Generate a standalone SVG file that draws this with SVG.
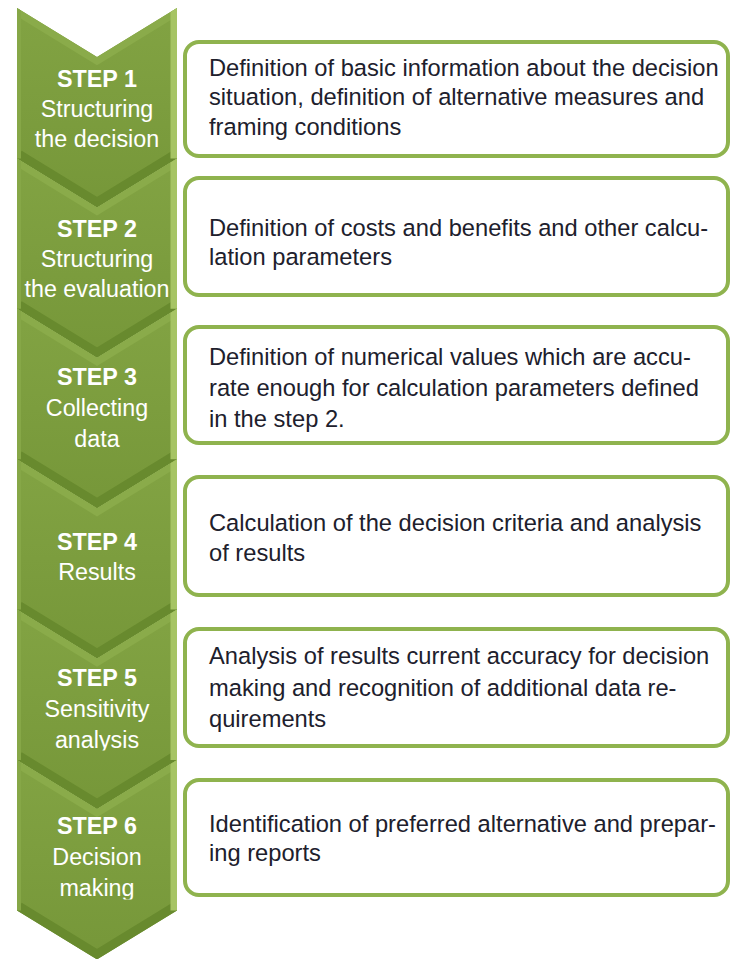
<svg xmlns="http://www.w3.org/2000/svg" width="732" height="959" viewBox="0 0 732 959">
  <style>
    .chev { fill: url(#chevFill); }
    .bevTop { fill: none; stroke: #8aab4a; stroke-width: 14; stroke-linejoin: miter; }
    .bevBot { fill: none; stroke: #688a2e; stroke-width: 18; stroke-linejoin: miter; }
    .bevRight { fill: none; stroke: #a6c464; stroke-width: 13; }
    .bevLeft { fill: none; stroke: #86a747; stroke-width: 8; }
    .step { font-family: "Liberation Sans", Arial, sans-serif; font-size: 23.3px; fill: #ffffff; text-anchor: middle; }
    .step .hd { font-weight: bold; }
    .box rect { fill: #ffffff; stroke: #8fb34e; stroke-width: 4; }
    .box text { font-family: "Liberation Sans", Arial, sans-serif; font-size: 23.7px; fill: #20202c; }
  </style>
  <defs>
    <linearGradient id="chevFill" x1="0" y1="0" x2="0" y2="1">
      <stop offset="0" stop-color="#82a343"/>
      <stop offset="1" stop-color="#769739"/>
    </linearGradient>
    <!-- one chevron, drawn at y=0; each step translates it down -->
    <path id="chevShape" d="M17,0 L97,49 L177,0 L177,150.4 L97,199.4 L17,150.4 Z"/>
    <clipPath id="chevClip"><use href="#chevShape"/></clipPath>
    <g id="chevron">
      <use href="#chevShape" class="chev"/>
      <g clip-path="url(#chevClip)">
        <path class="bevTop" d="M17,0 L97,49 L177,0"/>
        <path class="bevBot" d="M17,150.4 L97,199.4 L177,150.4"/>
        <path class="bevLeft" d="M17,0 L17,150.4"/>
        <path class="bevRight" d="M177,0 L177,150.4"/>
      </g>
    </g>
    <clipPath id="cutAnalysis"><rect x="0" y="600" width="200" height="150.5"/></clipPath>
    <clipPath id="cutMaking"><rect x="0" y="760" width="200" height="139.5"/></clipPath>
  </defs>

  <!-- chevron column -->
  <g id="step1">
    <use href="#chevron" transform="translate(0,8)"/>
    <text class="step"><tspan class="hd" x="97" y="87">STEP 1</tspan><tspan x="97" y="117">Structuring</tspan><tspan x="97" y="147">the decision</tspan></text>
  </g>
  <g id="step2">
    <use href="#chevron" transform="translate(0,158.4)"/>
    <text class="step"><tspan class="hd" x="97" y="237">STEP 2</tspan><tspan x="97" y="267">Structuring</tspan><tspan x="97" y="297">the evaluation</tspan></text>
  </g>
  <g id="step3">
    <use href="#chevron" transform="translate(0,308.8)"/>
    <text class="step"><tspan class="hd" x="97" y="385">STEP 3</tspan><tspan x="97" y="416">Collecting</tspan><tspan x="97" y="447">data</tspan></text>
  </g>
  <g id="step4">
    <use href="#chevron" transform="translate(0,459.2)"/>
    <text class="step"><tspan class="hd" x="97" y="550">STEP 4</tspan><tspan x="97" y="580">Results</tspan></text>
  </g>
  <g id="step5">
    <use href="#chevron" transform="translate(0,609.6)"/>
    <text class="step"><tspan class="hd" x="97" y="686">STEP 5</tspan><tspan x="97" y="717">Sensitivity</tspan></text>
    <text class="step" x="97" y="748" clip-path="url(#cutAnalysis)">analysis</text>
  </g>
  <g id="step6">
    <use href="#chevron" transform="translate(0,760)"/>
    <text class="step"><tspan class="hd" x="97" y="834">STEP 6</tspan><tspan x="97" y="865">Decision</tspan></text>
    <text class="step" x="97" y="896" clip-path="url(#cutMaking)">making</text>
  </g>

  <!-- description boxes -->
  <g id="box1" class="box">
    <rect x="185" y="42" width="543" height="114" rx="14"/>
    <text><tspan x="209" y="76">Definition of basic information about the decision</tspan><tspan x="209" y="105">situation, definition of alternative measures and</tspan><tspan x="209" y="135">framing conditions</tspan></text>
  </g>
  <g id="box2" class="box">
    <rect x="185" y="178" width="543" height="117" rx="14"/>
    <text><tspan x="209" y="236">Definition of costs and benefits and other calcu-</tspan><tspan x="209" y="265">lation parameters</tspan></text>
  </g>
  <g id="box3" class="box">
    <rect x="185" y="327" width="543" height="116" rx="14"/>
    <text><tspan x="209" y="365">Definition of numerical values which are accu-</tspan><tspan x="209" y="396">rate enough for calculation parameters defined</tspan><tspan x="209" y="427">in the step 2.</tspan></text>
  </g>
  <g id="box4" class="box">
    <rect x="185" y="477" width="543" height="118" rx="14"/>
    <text><tspan x="209" y="531">Calculation of the decision criteria and analysis</tspan><tspan x="209" y="561">of results</tspan></text>
  </g>
  <g id="box5" class="box">
    <rect x="185" y="629" width="543" height="117" rx="14"/>
    <text><tspan x="209" y="664">Analysis of results current accuracy for decision</tspan><tspan x="209" y="696">making and recognition of additional data re-</tspan><tspan x="209" y="727">quirements</tspan></text>
  </g>
  <g id="box6" class="box">
    <rect x="185" y="780" width="543" height="115" rx="14"/>
    <text><tspan x="209" y="832">Identification of preferred alternative and prepar-</tspan><tspan x="209" y="861">ing reports</tspan></text>
  </g>
</svg>
